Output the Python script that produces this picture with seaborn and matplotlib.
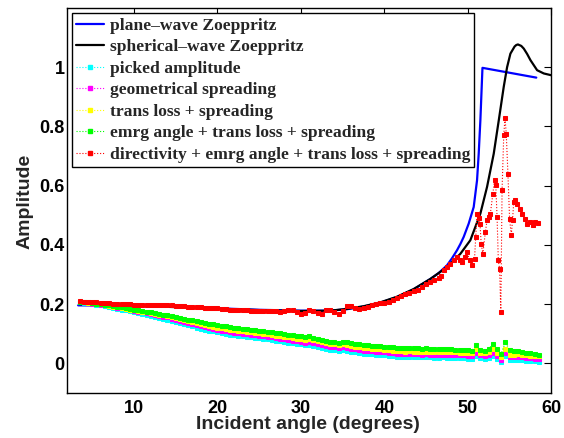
import numpy as np
import pandas as pd
import matplotlib
matplotlib.use("Agg")
import matplotlib.pyplot as plt
import seaborn as sns
from matplotlib.lines import Line2D

# ---------------- data ----------------
grid_angle = np.arange(3.5, 58.51, 0.5)   # common sampling of the picked series

picked = [.207,.205,.203,.201,.198,.196,.194,.191,.188,.185,
          .182,.179,.176,.173,.170,.167,.164,.161,.157,.154,
          .151,.148,.144,.140,.136,.132,.128,.125,.121,.117,
          .114,.111,.108,.105,.102,.099,.097,.095,.093,.091,
          .090,.088,.086,.085,.083,.081,.079,.076,.074,.072,
          .070,.068,.066,.064,.061,.062,.058,.055,.053,.049,
          .046,.045,.043,.045,.043,.039,.037,.035,.033,.032,
          .031,.030,.028,.027,.026,.024,.022,.022,.021,.022,
          .021,.021,.020,.021,.020,.019,.019,.020,.019,.018,
          .018,.017,.017,.016,.015,.024,.018,.015,.019,.024,
          .015,.004,.025,.012,.011,.013,.011,.009,.008,.007,
          .006]
geom = [.207,.206,.204,.202,.199,.198,.196,.194,.191,.188,
        .186,.183,.180,.177,.175,.172,.169,.166,.163,.160,
        .157,.155,.151,.147,.144,.140,.136,.133,.129,.126,
        .123,.120,.117,.114,.111,.108,.106,.104,.102,.100,
        .099,.097,.095,.094,.092,.090,.088,.085,.083,.081,
        .079,.077,.075,.073,.070,.072,.068,.065,.062,.059,
        .056,.055,.053,.055,.053,.049,.047,.045,.043,.042,
        .041,.040,.038,.037,.036,.034,.032,.032,.031,.032,
        .031,.031,.030,.031,.030,.029,.029,.030,.029,.028,
        .028,.027,.027,.026,.025,.036,.027,.025,.030,.036,
        .025,.012,.036,.021,.020,.022,.020,.018,.017,.016,
        .015]
trans = [.208,.206,.205,.203,.201,.199,.197,.195,.192,.190,
         .188,.185,.182,.180,.178,.175,.172,.170,.167,.164,
         .162,.159,.156,.152,.149,.145,.142,.139,.135,.132,
         .129,.126,.124,.121,.118,.115,.114,.112,.110,.108,
         .107,.105,.103,.102,.100,.099,.097,.094,.092,.090,
         .088,.086,.084,.082,.080,.082,.078,.075,.072,.068,
         .065,.064,.062,.064,.062,.058,.056,.054,.052,.051,
         .050,.049,.047,.046,.045,.043,.041,.041,.040,.041,
         .040,.040,.039,.040,.039,.038,.038,.039,.038,.037,
         .037,.036,.036,.035,.034,.048,.036,.034,.040,.048,
         .034,.020,.050,.030,.029,.031,.029,.027,.026,.025,
         .024]
emrg = [.209,.207,.206,.204,.202,.200,.198,.196,.194,.192,
        .189,.187,.184,.181,.179,.176,.174,.172,.169,.166,
        .164,.162,.160,.157,.154,.151,.148,.146,.143,.140,
        .137,.134,.132,.130,.127,.125,.123,.121,.119,.117,
        .116,.114,.112,.111,.109,.107,.105,.103,.101,.099,
        .097,.095,.094,.093,.090,.092,.087,.084,.080,.076,
        .073,.072,.070,.072,.071,.068,.066,.064,.062,.061,
        .060,.059,.058,.057,.056,.055,.053,.053,.052,.052,
        .051,.051,.050,.051,.050,.049,.049,.049,.048,.047,
        .046,.045,.045,.044,.043,.061,.044,.041,.050,.064,
        .050,.033,.072,.044,.042,.041,.039,.036,.034,.032,
        .030]

red_grid_angle = np.arange(3.5, 46.51, 0.5)
direct_grid = [.210,.209,.208,.207,.206,.205,.204,.203,.202,.201,
               .200,.200,.199,.198,.198,.197,.197,.197,.196,.196,
               .197,.197,.196,.195,.194,.193,.192,.191,.190,.189,
               .188,.188,.187,.186,.185,.183,.182,.181,.180,.179,
               .179,.178,.178,.178,.177,.177,.176,.176,.175,.176,
               .180,.181,.172,.166,.171,.180,.178,.170,.168,.180,
               .181,.172,.166,.178,.194,.194,.187,.184,.187,.192,
               .198,.201,.203,.205,.207,.213,.221,.228,.233,.239,
               .243,.248,.258,.268,.275,.280,.287]
direct_tail_angle = [46.8, 47.1, 47.5, 47.9, 48.3, 48.7, 49.0, 49.3, 49.6, 49.9,
                     50.2, 50.5, 50.8, 50.95, 51.1, 51.3, 51.45, 51.6, 51.8, 52.1,
                     52.3, 52.5, 52.7, 53.0, 53.2, 53.35, 53.5, 53.65, 53.8, 53.95,
                     54.1, 54.3, 54.45, 54.6, 54.8, 55.0, 55.2, 55.35, 55.5, 55.7,
                     55.9, 56.2, 56.5, 56.8, 57.1, 57.5, 57.8, 58.0, 58.4]
direct_tail = [.295, .315, .325, .337, .350, .360, .348, .342, .360, .376,
               .350, .331, .354, .427, .506, .490, .472, .404, .370, .444,
               .483, .495, .506, .573, .620, .601, .494, .348, .320, .173,
               .587, .770, .829, .776, .641, .489, .432, .483, .545, .551,
               .539, .523, .506, .489, .472, .477, .466, .477, .474]

plane_angle = [3.3, 10, 15, 20, 25, 30, 33.5, 35.5, 37.5, 39.5, 41.5, 43.5, 45.5,
               46.5, 47.5, 48.1, 48.7, 49.1, 49.5, 50.1, 50.7, 51.1, 51.3, 51.5,
               51.75, 58.2]
plane_amp = [.196, .195, .192, .186, .181, .178, .178, .183, .192, .205, .224, .250, .285,
             .305, .331, .355, .382, .403, .427, .472, .528, .618, .708, .821,
             .998, .965]

sph_angle = [3.5, 6, 10, 15, 20, 25, 30, 33.5, 35.5, 37.5, 39.5, 41.5, 43.5, 45.5,
             47.5, 49.1, 50.3, 51.5, 52.3, 53.1, 53.7, 54.3, 54.7, 55.1, 55.6, 55.8,
             56.0, 56.4, 56.7, 57.1, 57.5, 58.3, 59.1, 60.0]
sph_amp = [.200, .199, .195, .190, .185, .180, .177, .178, .184, .193, .206, .225, .251, .285,
           .325, .370, .416, .506, .596, .708, .820, .934, 1.0, 1.046, 1.070, 1.075,
           1.077, 1.072, 1.063, 1.045, 1.024, .990, .979, .973]

labels = ["plane\u2013wave Zoeppritz", "spherical\u2013wave Zoeppritz", "picked amplitude",
          "geometrical spreading", "trans loss + spreading",
          "emrg angle + trans loss + spreading",
          "directivity + emrg angle + trans loss + spreading"]
colors = ["#0000ff", "#000000", "#00ffff", "#ff00ff", "#ffff00", "#00ff00", "#ff0000"]

# ---------------- figure ----------------
sns.set_style("white")
plt.rcParams["font.family"] = ["Liberation Sans", "DejaVu Sans"]
plt.rcParams["font.weight"] = "bold"
plt.rcParams["axes.labelweight"] = "bold"

fig = plt.figure(figsize=(5.64, 4.38), dpi=100)
ax = fig.add_axes([0.1193, 0.1027, 0.8582, 0.879])

sns.lineplot(x=plane_angle, y=plane_amp, color=colors[0], lw=1.6, ax=ax, sort=False)
sns.lineplot(x=sph_angle, y=sph_amp, color=colors[1], lw=1.6, ax=ax, sort=False)

dot_series = [(grid_angle, picked), (grid_angle, geom), (grid_angle, trans), (grid_angle, emrg),
              (np.concatenate([red_grid_angle, direct_tail_angle]),
               np.concatenate([direct_grid, direct_tail]))]
for (xa, ya), c in zip(dot_series, colors[2:]):
    sns.lineplot(x=xa, y=ya, color=c, lw=0.8, linestyle=":", marker="s",
                 markersize=2.8, markeredgecolor=c, markerfacecolor=c, ax=ax, sort=False)

ax.set_xlim(2, 60)
ax.set_ylim(-0.1, 1.2)
ax.set_xticks([10, 20, 30, 40, 50, 60])
ax.set_xticklabels(["10", "20", "30", "40", "50", "60"], fontweight="bold")
ax.set_yticks([0, 0.2, 0.4, 0.6, 0.8, 1.0])
ax.set_yticklabels(["0", "0.2", "0.4", "0.6", "0.8", "1"], fontweight="bold")
ax.tick_params(direction="in", length=5, width=0.8, top=True, right=True,
               labelsize=13, colors="black")
ax.tick_params(axis="x", pad=5)
ax.tick_params(axis="y", pad=2)
for s in ax.spines.values():
    s.set_color("black")
    s.set_linewidth(1.0)
ax.set_xlabel("Incident angle (degrees)", fontsize=14, fontweight="bold")
ax.set_ylabel("Amplitude", fontsize=14, fontweight="bold")
ax.xaxis.set_label_coords(0.497, -0.083)
ax.yaxis.set_label_coords(-0.087, 0.497)
ax.xaxis.label.set_verticalalignment("center")
ax.yaxis.label.set_verticalalignment("center")

handles = []
for i, c in enumerate(colors):
    if i < 2:
        handles.append(Line2D([], [], color=c, lw=1.6))
    else:
        handles.append(Line2D([], [], color=c, lw=0.8, linestyle=":", marker="s",
                              markersize=2.8, markeredgecolor=c, markerfacecolor=c))
leg = ax.legend(handles, labels, loc="upper left", bbox_to_anchor=(0.0097, 0.987),
                borderaxespad=0, numpoints=1, frameon=True, fancybox=False,
                framealpha=1, edgecolor="black", handlelength=1.6, handletextpad=0.3,
                labelspacing=0.30, borderpad=0.25,
                prop={"family": ["Liberation Serif", "DejaVu Serif"], "weight": "bold", "size": 12.6})
leg.get_frame().set_linewidth(1.0)

fig.savefig("out.png", dpi=100, facecolor="white")
